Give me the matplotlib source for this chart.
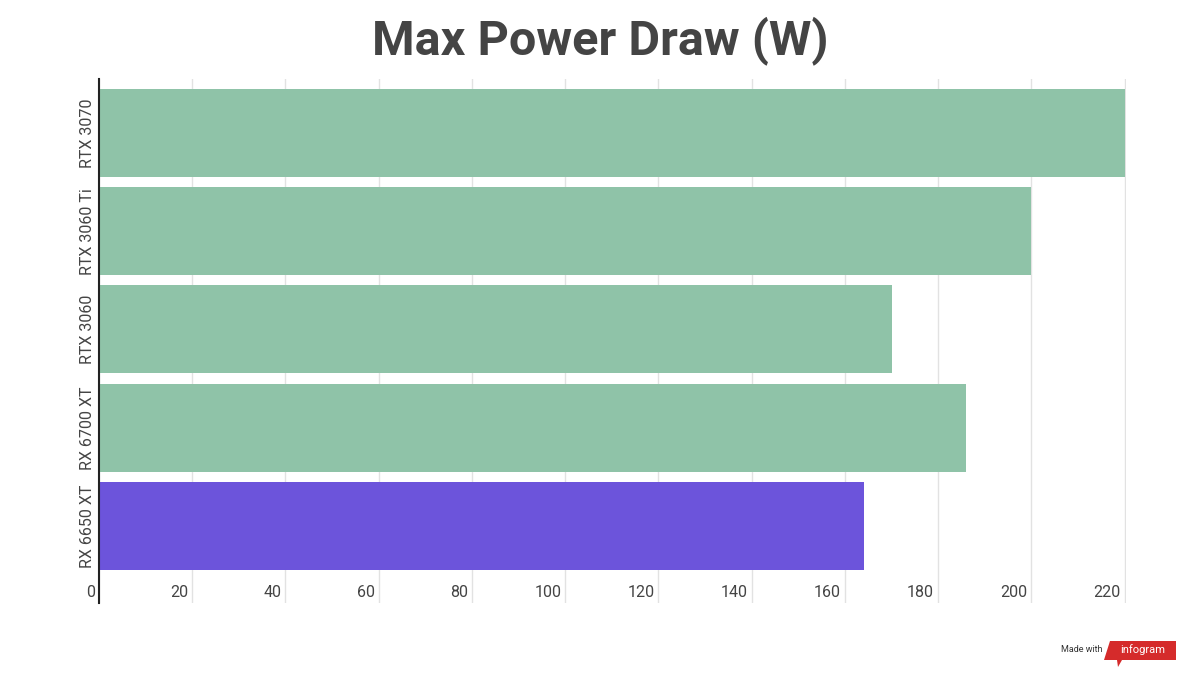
import matplotlib
matplotlib.use("Agg")
import matplotlib.pyplot as plt
from matplotlib.patches import Polygon
import matplotlib.transforms as mtransforms

categories = ["RTX 3070", "RTX 3060 Ti", "RTX 3060", "RX 6700 XT", "RX 6650 XT"]
values = [220, 200, 170, 186, 164]
colors = ["#8fc3a8", "#8fc3a8", "#8fc3a8", "#8fc3a8", "#6c54db"]
xticks = [0, 20, 40, 60, 80, 100, 120, 140, 160, 180, 200, 220]
title = "Max Power Draw (W)"

plt.rcParams['font.family'] = ['Roboto', 'DejaVu Sans']
text_color = "#444444"

fig = plt.figure(figsize=(12, 6.75), dpi=100)
ax = fig.add_axes([0.0825, 0.1067, 0.8555, 0.7763])

ypos = list(range(len(categories)))
ax.barh(ypos, values, height=0.895, color=colors, zorder=2)

ax.set_xlim(0, 220.2)
ax.set_ylim(4.783, -0.549)

ax.set_xticks(xticks)
ax.grid(axis='x', color='#e2e2e2', linewidth=1, zorder=0)
ax.tick_params(axis='x', length=0, labelbottom=False)
blend = mtransforms.blended_transform_factory(ax.transData, ax.transAxes)
label_tr = mtransforms.offset_copy(blend, fig=fig, x=-4, y=10, units='dots')
for t in xticks:
    ax.text(t, 0.0, str(t), transform=label_tr,
            ha='right', va='center', fontsize=11.5, color=text_color)

ax.set_yticks(ypos)
ax.set_yticklabels(categories, rotation=90, va='center', fontsize=11.5, color=text_color)
ax.tick_params(axis='y', length=0, pad=3)

for s in ['top', 'right', 'bottom']:
    ax.spines[s].set_visible(False)
ax.spines['left'].set_color('#222222')
ax.spines['left'].set_linewidth(1.5)
ax.spines['left'].set_zorder(3)

fig.text(0.5, 0.94, title, ha='center', va='center', fontsize=35, fontweight='bold', color=text_color)

# "Made with infogram" badge
fig.text(1082 / 1200, 1 - 650 / 675, "Made with", ha='center', va='center', fontsize=6.5, color='#333333')
poly = Polygon([(1110 / 1200, 1 - 641 / 675), (1176 / 1200, 1 - 641 / 675), (1176 / 1200, 1 - 660 / 675),
                (1122 / 1200, 1 - 660 / 675), (1118 / 1200, 1 - 667 / 675), (1117 / 1200, 1 - 660 / 675),
                (1104 / 1200, 1 - 660 / 675)],
               closed=True, transform=fig.transFigure, facecolor='#d52b2b', edgecolor='none')
fig.patches.append(poly)
fig.text(1143 / 1200, 1 - 650 / 675, "infogram", ha='center', va='center', fontsize=8, color='white')

fig.savefig("out.png", dpi=100, facecolor='white')
